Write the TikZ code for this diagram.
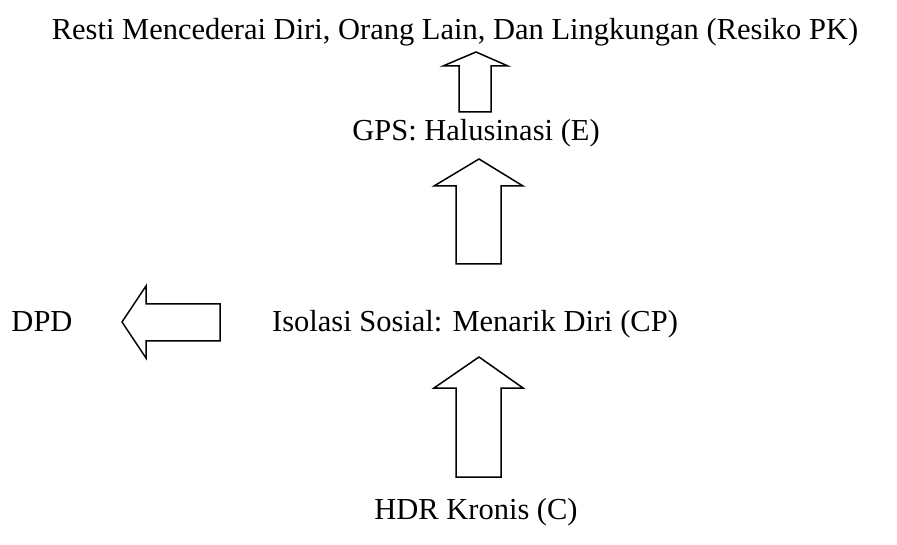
\documentclass[tikz,border=0pt]{standalone}
\usepackage{fontspec}
\setmainfont{Liberation Serif}
\begin{document}
\begin{tikzpicture}[x=1pt,y=-1pt,
  lbl/.style={font=\fontsize{30.5}{36}\selectfont, inner sep=0pt, anchor=base},
  blk/.style={draw=black, line width=1.5pt, line join=miter, fill=white}]
\useasboundingbox (0,0) rectangle (897,545);
\node[lbl] (top) at (455,40) {Resti Mencederai Diri, Orang Lain, Dan Lingkungan (Resiko PK)};
\node[lbl] (gps) at (476,141) {GPS: Halusinasi (E)};
\node[lbl] (iso) at (475,332) {Isolasi Sosial: Menarik Diri (CP)};
\node[lbl] (dpd) at (42,332) {DPD};
\node[lbl] (hdr) at (476,519) {HDR Kronis (C)};
% arrow gps -> top
\draw[blk] (459,112) -- (459,66) -- (443,66) -- (476,52) -- (508,66) -- (491,66) -- (491,112) -- cycle;
% arrow iso -> gps
\draw[blk] (456,264) -- (456,186) -- (434,186) -- (479,159) -- (523,186) -- (501,186) -- (501,264) -- cycle;
% arrow hdr -> iso
\draw[blk] (456,477) -- (456,388) -- (434,388) -- (479,357) -- (523,388) -- (501,388) -- (501,477) -- cycle;
% arrow iso -> dpd
\draw[blk] (220,304) -- (146,304) -- (146,286) -- (122,322) -- (146,358) -- (146,341) -- (220,341) -- cycle;
\end{tikzpicture}
\end{document}
